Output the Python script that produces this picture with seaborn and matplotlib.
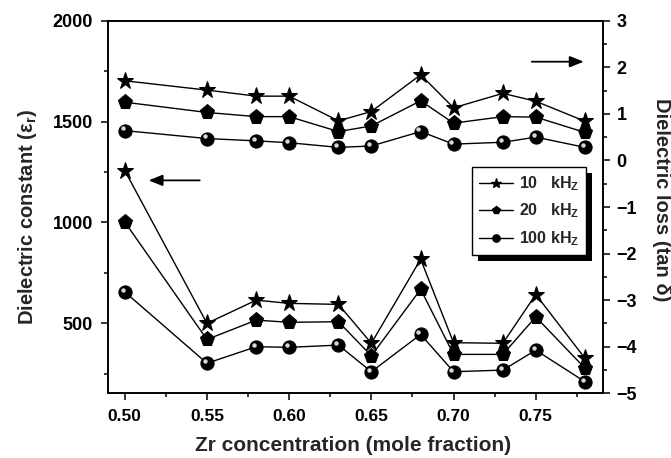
import numpy as np
import pandas as pd
import matplotlib
matplotlib.use('Agg')
import matplotlib.pyplot as plt
import seaborn as sns
from matplotlib.transforms import offset_copy, IdentityTransform
from matplotlib.patches import Rectangle
from matplotlib.ticker import MultipleLocator
from matplotlib.lines import Line2D

# ---------------- data ----------------
zr = [0.50, 0.55, 0.58, 0.60, 0.63, 0.65, 0.68, 0.70, 0.73, 0.75, 0.78]
eps_10k = [1257, 499, 614, 598, 593, 400, 817, 403, 400, 642, 325]
eps_20k = [1002, 419, 515, 504, 507, 338, 668, 345, 345, 531, 276]
eps_100k = [655, 301, 383, 380, 391, 259, 444, 259, 267, 366, 209]
tan_10k = [1.71, 1.51, 1.38, 1.38, 0.85, 1.05, 1.84, 1.13, 1.44, 1.27, 0.84]
tan_20k = [1.25, 1.03, 0.94, 0.94, 0.62, 0.74, 1.28, 0.80, 0.94, 0.93, 0.60]
tan_100k = [0.64, 0.47, 0.42, 0.38, 0.28, 0.31, 0.62, 0.35, 0.39, 0.50, 0.28]
freq_labels = [r'10   kH$_\mathbf{Z}$', r'20   kH$_\mathbf{Z}$', r'100 kH$_\mathbf{Z}$']
x_ticks = [0.50, 0.55, 0.60, 0.65, 0.70, 0.75]
left_ticks = [500, 1000, 1500, 2000]
right_ticks = [-5, -4, -3, -2, -1, 0, 1, 2, 3]

sns.set_theme(style='ticks')
plt.rcParams['font.family'] = ['Liberation Sans', 'DejaVu Sans']
plt.rcParams['font.weight'] = 'bold'
plt.rcParams['mathtext.fontset'] = 'custom'
plt.rcParams['mathtext.rm'] = 'Liberation Sans:bold'
plt.rcParams['mathtext.bf'] = 'Liberation Sans:bold'
plt.rcParams['mathtext.it'] = 'Liberation Sans:bold:italic'

W, H = 671, 458
fig = plt.figure(figsize=(W / 100, H / 100), dpi=100)
L, R, T, B = 108.3, 602.5, 20.7, 393.3
ax = fig.add_axes([L / W, 1 - B / H, (R - L) / W, (B - T) / H])
ax2 = ax.twinx()

markers = ['*', 'p', 'o']
msizes = [12.5, 11, 9.5]
eps_all = [eps_10k, eps_20k, eps_100k]
tan_all = [tan_10k, tan_20k, tan_100k]

for a, series in ((ax, eps_all), (ax2, tan_all)):
    for vals, m, ms in zip(series, markers, msizes):
        sns.lineplot(x=zr, y=vals, ax=a, color='black', linewidth=1.0,
                     marker=m, markersize=ms, markeredgecolor='black',
                     markerfacecolor='black', legend=False)
    # sphere highlight for the 100 kHz series
    hl = offset_copy(a.transData, fig=fig, x=-1.6, y=1.6, units='points')
    a.plot(zr, series[2], linestyle='none', marker='o', markersize=3.2,
           markerfacecolor='#d8d8d8', markeredgewidth=0, transform=hl, zorder=5)

ax.set_xlim(0.49, 0.7906)
ax.set_ylim(152, 2000)
ax2.set_ylim(-5, 3)
ax.set_xticks(x_ticks)
ax.set_xticklabels([f'{t:.2f}' for t in x_ticks])
ax.xaxis.set_minor_locator(MultipleLocator(0.025))
ax.set_yticks(left_ticks)
ax.yaxis.set_minor_locator(MultipleLocator(250))
ax2.set_yticks(right_ticks)
ax2.yaxis.set_minor_locator(MultipleLocator(0.5))

for a in (ax, ax2):
    for s in a.spines.values():
        s.set_linewidth(1.2)
        s.set_color('black')
    a.tick_params(which='major', direction='out', length=5, width=1.1,
                  colors='black', labelsize=13)
    a.tick_params(which='minor', direction='out', length=3, width=1.1,
                  colors='black')
ax.tick_params(axis='x', pad=6, labelsize=12.5)
ax.tick_params(axis='y', pad=6)
ax2.tick_params(axis='y', pad=5)
for lab in ax.get_xticklabels() + ax.get_yticklabels() + ax2.get_yticklabels():
    lab.set_fontweight('bold')

ax.set_xlabel('Zr concentration (mole fraction)', fontsize=15, fontweight='bold')
ax.xaxis.set_label_coords(0.496, -0.139)
ax.xaxis.label.set_va('center')
ax.set_ylabel(r'Dielectric constant (ε$_\mathbf{r}$)', fontsize=14.5, fontweight='bold')
ax.yaxis.set_label_coords(-0.1645, 0.473)
ax.yaxis.label.set_va('center')
ax2.set_ylabel('Dielectric loss (tan δ)', fontsize=14.5, fontweight='bold', rotation=270)
ax2.yaxis.set_label_coords(1.12, 0.519)
ax2.yaxis.label.set_va('center')
ax2.yaxis.label.set_ha('center')

# arrows
ax.annotate('', xy=(0.5145, 1208), xytext=(0.5456, 1208),
            arrowprops=dict(arrowstyle='-|>,head_length=0.7,head_width=0.28',
                            color='black', lw=1.3, shrinkA=0, shrinkB=0))
ax2.annotate('', xy=(0.7792, 2.12), xytext=(0.7476, 2.12),
             arrowprops=dict(arrowstyle='-|>,head_length=0.7,head_width=0.28',
                             color='black', lw=1.3, shrinkA=0, shrinkB=0))

# legend
handles = [Line2D([], [], color='black', lw=1.0, marker=m, markersize=ms * 0.55,
                  markerfacecolor='black', markeredgecolor='black')
           for m, ms in zip(markers, msizes)]
leg = ax2.legend(handles, freq_labels, loc='upper right',
                 bbox_to_anchor=(586 / W, 1 - 167 / H), bbox_transform=fig.transFigure,
                 frameon=True, fancybox=False, edgecolor='black', framealpha=1,
                 handlelength=2.1, handletextpad=0.35,
                 labelspacing=0.55, borderpad=0.45, borderaxespad=0,
                 prop={'weight': 'bold', 'size': 11.5})
leg.get_frame().set_linewidth(1.0)
leg.set_zorder(10)

fig.canvas.draw()
bb = leg.get_window_extent()
shadow = Rectangle((bb.x0 + 6, bb.y0 - 6), bb.width, bb.height, transform=IdentityTransform(),
                   facecolor='black', edgecolor='none', zorder=9, clip_on=False)
ax2.add_artist(shadow)

fig.savefig('out.png', dpi=100)
